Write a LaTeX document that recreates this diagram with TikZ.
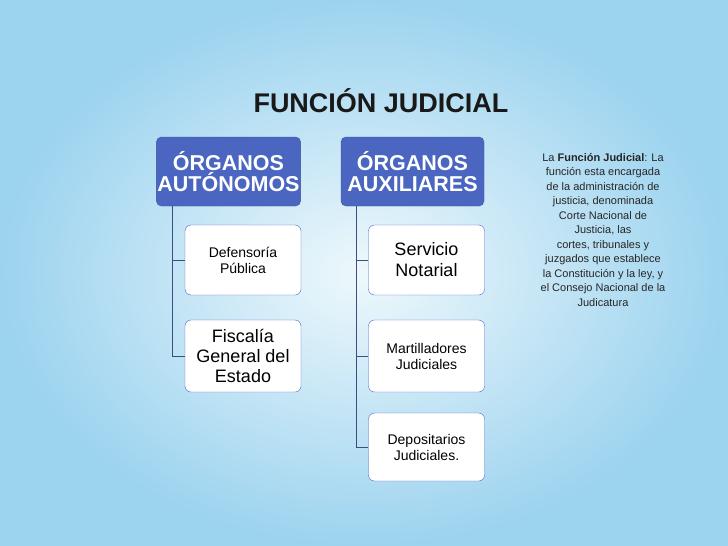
\documentclass[tikz,border=0pt]{standalone}
\usepackage{fontspec}
\setmainfont{Liberation Sans}
\definecolor{hdr}{HTML}{4A66C0}
\definecolor{lin}{HTML}{3A4F80}
\definecolor{bgout}{HTML}{9CD3EF}
\definecolor{bgin}{HTML}{EEF8FC}
\begin{document}
\begin{tikzpicture}[x=1pt,y=-1pt,
 hbox/.style={fill=hdr,draw=hdr!80!black,rounded corners=5pt,minimum width=143pt,minimum height=69pt,text=white,font=\fontsize{21.5}{21}\selectfont\bfseries,align=center,inner sep=1pt},
 cbox/.style={fill=white,draw=hdr,rounded corners=6pt,minimum width=116pt,minimum height=70pt,align=center,inner sep=2pt},
 conn/.style={draw=lin,line width=0.9pt}]
\useasboundingbox (0,0) rectangle (728,546);
\shade[inner color=bgin,outer color=bgout] (0,0) rectangle (728,546);
\node[font=\fontsize{27}{27}\selectfont\bfseries,text=black!90] (title) at (381,101) {FUNCIÓN JUDICIAL};
\node[hbox] (A) at (228.5,171.5) {ÓRGANOS\\AUTÓNOMOS};
\node[hbox] (B) at (412.5,171.5) {ÓRGANOS\\AUXILIARES};
\node[cbox,font=\fontsize{14}{16}\selectfont] (a1) at (243,260) {Defensoría\\Pública};
\node[cbox,font=\fontsize{18}{20}\selectfont,minimum height=72pt] (a2) at (243,356) {Fiscalía\\General del\\Estado};
\node[cbox,font=\fontsize{18}{21}\selectfont] (b1) at (426.5,260) {Servicio\\Notarial};
\node[cbox,font=\fontsize{14}{16}\selectfont,minimum height=72pt] (b2) at (426.5,356) {Martilladores\\Judiciales};
\node[cbox,font=\fontsize{14}{16}\selectfont,minimum height=68pt] (b3) at (426.5,447) {Depositarios\\Judiciales.};
\coordinate (ca) at (172,206);
\coordinate (cb) at (356,206);
\draw[conn] (ca) |- (a2.west);
\draw[conn] (ca |- a1.west) -- (a1.west);
\draw[conn] (cb) |- (b3.west);
\draw[conn] (cb |- b1.west) -- (b1.west);
\draw[conn] (cb |- b2.west) -- (b2.west);
\node[font=\fontsize{11}{14.5}\selectfont,align=center,text=black!85] (txt) at (603,230) {La \textbf{Función Judicial}: La\\función esta encargada\\de la administración de\\justicia, denominada\\Corte Nacional de\\Justicia, las\\cortes, tribunales y\\juzgados que establece\\la Constitución y la ley, y\\el Consejo Nacional de la\\Judicatura};
\end{tikzpicture}
\end{document}
